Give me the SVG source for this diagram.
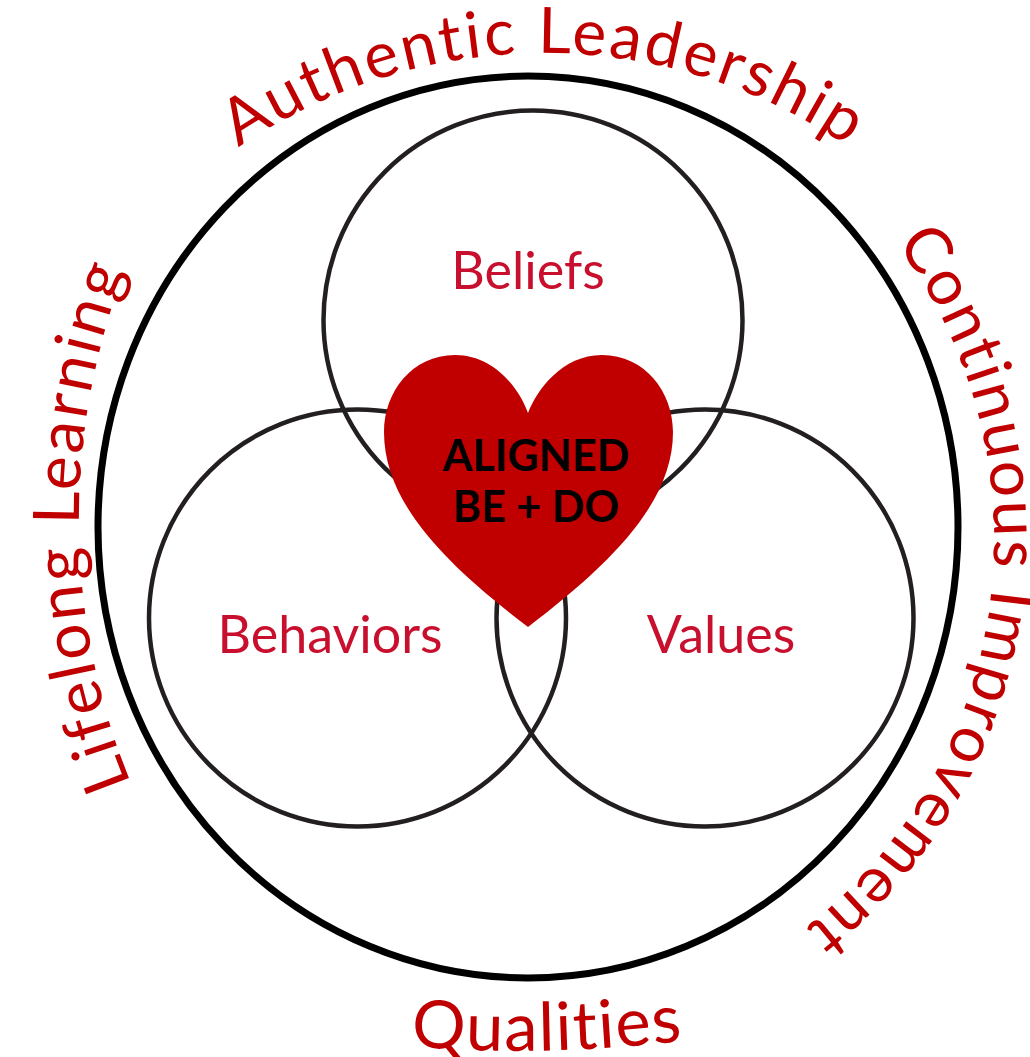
<svg xmlns="http://www.w3.org/2000/svg" xmlns:xlink="http://www.w3.org/1999/xlink" width="1030" height="1057" viewBox="0 0 1030 1057">
  <style>
    .ring { fill: none; stroke: #000; stroke-width: 7; }
    .venn { fill: none; stroke: #231F20; stroke-width: 4.5; }
    .arc { font-family: Lato, "Open Sans", "Liberation Sans", sans-serif; font-size: 64px; fill: #C00000; }
    .lbl { font-family: Lato, "Open Sans", "Liberation Sans", sans-serif; font-size: 52px; fill: #C8102E; text-anchor: middle; }
    .core { font-family: Lato, "Open Sans", "Liberation Sans", sans-serif; font-size: 43px; font-weight: 700; fill: #000; text-anchor: middle; }
  </style>
  <defs>
    <path id="p-auth" d="M 197 179.3 A 540 540 0 0 1 891 179.3"/>
    <path id="p-cont" d="M 841.6 181.7 A 495 495 0 0 1 717.5 983.2"/>
    <path id="p-life" d="M 172.2 867 A 696 696 0 0 1 172.2 171"/>
    <path id="p-qual" d="M 405 1046 Q 545 1058 690 1040"/>
  </defs>
  <rect width="1030" height="1057" fill="#fff"/>

  <g id="outer-ring">
    <ellipse class="ring" cx="528" cy="527" rx="430" ry="451"/>
  </g>

  <g id="circle-beliefs">
    <circle class="venn" cx="533" cy="320" r="209.5"/>
    <text class="lbl" x="528" y="289">Beliefs</text>
  </g>
  <g id="circle-behaviors">
    <circle class="venn" cx="357.5" cy="618" r="208.5"/>
    <text class="lbl" x="330" y="653">Behaviors</text>
  </g>
  <g id="circle-values">
    <circle class="venn" cx="705" cy="618" r="208.5"/>
    <text class="lbl" x="721" y="653">Values</text>
  </g>

  <g id="heart">
    <path d="M 528 413 C 520 390 495 355 455 355 C 412 355 384 392 384 432 C 384 500 440 560 528 627 C 616 560 673 500 673 432 C 673 392 645 355 602 355 C 562 355 537 390 528 413 Z" fill="#C00000"/>
    <text class="core" x="536" y="471">ALIGNED</text>
    <text class="core" x="536" y="522">BE + DO</text>
  </g>

  <g id="label-authentic-leadership">
    <text class="arc" letter-spacing="2.7" text-anchor="middle"><textPath xlink:href="#p-auth" href="#p-auth" startOffset="50%">Authentic Leadership</textPath></text>
  </g>
  <g id="label-continuous-improvement">
    <text class="arc" letter-spacing="2.4" text-anchor="middle"><textPath xlink:href="#p-cont" href="#p-cont" startOffset="49%">Continuous Improvement</textPath></text>
  </g>
  <g id="label-lifelong-learning">
    <text class="arc" letter-spacing="2.8" text-anchor="middle"><textPath xlink:href="#p-life" href="#p-life" startOffset="357">Lifelong Learning</textPath></text>
  </g>
  <g id="label-qualities">
    <text class="arc" style="font-size:67px" letter-spacing="1.5" text-anchor="middle"><textPath xlink:href="#p-qual" href="#p-qual" startOffset="50%">Qualities</textPath></text>
  </g>
</svg>
